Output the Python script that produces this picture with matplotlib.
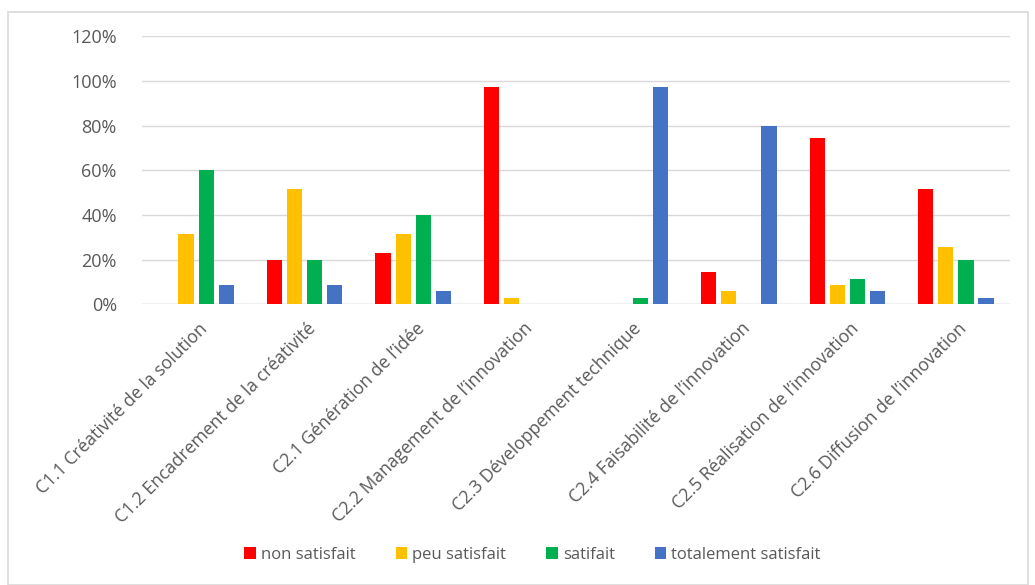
import numpy as np
import matplotlib.pyplot as plt
from matplotlib.patches import Rectangle

plt.rcParams['font.family'] = ['Open Sans', 'DejaVu Sans']

# Données (proportions)
categories = [
    "C1.1 Créativité de la solution",
    "C1.2 Encadrement de la créativité",
    "C2.1 Génération de l’idée",
    "C2.2 Management de l’innovation",
    "C2.3 Développement technique",
    "C2.4 Faisabilité de l’innovation",
    "C2.5 Réalisation de l’innovation",
    "C2.6 Diffusion de l’innovation",
]
non_satisfait = [0.0, 0.20, 0.229, 0.971, 0.0, 0.143, 0.743, 0.514]
peu_satisfait = [0.314, 0.514, 0.314, 0.029, 0.0, 0.057, 0.086, 0.257]
satifait = [0.60, 0.20, 0.40, 0.0, 0.029, 0.0, 0.114, 0.20]
totalement_satisfait = [0.086, 0.086, 0.057, 0.0, 0.971, 0.80, 0.057, 0.029]

series = [
    ("non satisfait", non_satisfait, "#FF0000"),
    ("peu satisfait", peu_satisfait, "#FFC000"),
    ("satifait", satifait, "#00B050"),
    ("totalement satisfait", totalement_satisfait, "#4472C4"),
]

text_color = "#595959"

fig = plt.figure(figsize=(10.35, 5.85), dpi=100)
ax = fig.add_axes([0.137, 0.48, 0.839, 0.458])

x = np.arange(len(categories))
w = 0.14
step = 0.185
for i, (nom, vals, col) in enumerate(series):
    ax.bar(x + (i - 1.5) * step, vals, width=w, color=col, label=nom, zorder=3)

ax.set_xlim(-0.5, len(categories) - 0.5)
ax.set_ylim(0, 1.2)
ax.set_yticks(np.arange(0, 1.21, 0.2))
ax.set_yticklabels([f"{int(round(v * 100))}%" for v in np.arange(0, 1.21, 0.2)])
ax.yaxis.grid(True, color="#D9D9D9", linewidth=1, zorder=0)
ax.tick_params(axis='y', length=0, pad=18, labelsize=13, labelcolor=text_color)
ax.tick_params(axis='x', length=0, pad=11, labelsize=12.7, labelcolor=text_color)

ax.set_xticks(x + 0.02)
ax.set_xticklabels(categories, rotation=45, ha='right', rotation_mode='anchor')

for s in ax.spines.values():
    s.set_visible(False)
ax.axhline(0, color="#D9D9D9", linewidth=1, zorder=2)

ax.legend(loc='center', bbox_to_anchor=(0.45, -0.935), ncol=4, frameon=False,
          fontsize=12, labelcolor=text_color, handlelength=0.7, handleheight=0.7,
          handletextpad=0.3, columnspacing=2.4)

# cadre gris autour du graphique
fig.patches.append(Rectangle((0.008, 0.0), 0.985, 0.98, transform=fig.transFigure,
                             fill=False, edgecolor="#D9D9D9", linewidth=1.2))

fig.savefig("out.png", dpi=100)
